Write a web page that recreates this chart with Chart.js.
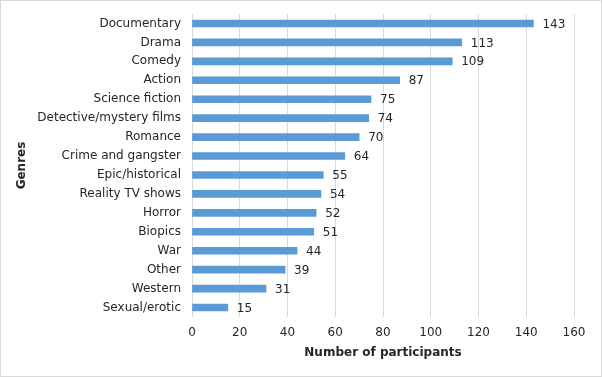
<!DOCTYPE html>
<html>
<head>
<meta charset="utf-8">
<script src="https://cdn.jsdelivr.net/npm/chart.js@4"></script>
<style>
  html, body { margin: 0; padding: 0; background: #fff; }
  #wrap { width: 602px; height: 377px; }
</style>
</head>
<body>
<div id="wrap"><canvas id="c" width="602" height="377"></canvas></div>
<script>
const categories = ["Documentary", "Drama", "Comedy", "Action", "Science fiction", "Detective/mystery films", "Romance", "Crime and gangster", "Epic/historical", "Reality TV shows", "Horror", "Biopics", "War", "Other", "Western", "Sexual/erotic"];
const values = [143, 113, 109, 87, 75, 74, 70, 64, 55, 54, 52, 51, 44, 39, 31, 15];
const xMin = 0, xMax = 160, xStep = 20;
const xTitle = "Number of participants";
const yTitle = "Genres";

const FONT = "'DejaVu Sans', Verdana, sans-serif";

const borderPlugin = {
  id: 'outerBorder',
  beforeDraw(chart) {
    const ctx = chart.ctx;
    ctx.save();
    ctx.fillStyle = '#fff';
    ctx.fillRect(0, 0, chart.width, chart.height);
    ctx.strokeStyle = '#d9d9d9';
    ctx.lineWidth = 1;
    ctx.strokeRect(0.5, 0.5, chart.width - 1, chart.height - 1);
    ctx.restore();
  }
};

const labelPlugin = {
  id: 'valueLabels',
  afterDatasetsDraw(chart) {
    const ctx = chart.ctx;
    const meta = chart.getDatasetMeta(0);
    ctx.save();
    ctx.font = '12px ' + FONT;
    ctx.fillStyle = '#262626';
    ctx.textAlign = 'left';
    ctx.textBaseline = 'middle';
    meta.data.forEach((bar, i) => {
      ctx.fillText(String(chart.data.datasets[0].data[i]), bar.x + 9, bar.y + 1);
    });
    ctx.restore();
  }
};

new Chart(document.getElementById('c'), {
  type: 'bar',
  data: {
    labels: categories,
    datasets: [{
      data: values,
      backgroundColor: '#5b9bd5',
      borderWidth: 0,
      barThickness: 7
    }]
  },
  options: {
    indexAxis: 'y',
    responsive: false,
    animation: false,
    devicePixelRatio: 1,
    layout: { padding: { left: 10, right: 28, top: 14, bottom: 0 } },
    plugins: { legend: { display: false }, tooltip: { enabled: false } },
    scales: {
      x: {
        min: xMin, max: xMax,
        ticks: { stepSize: xStep, color: '#262626', font: { family: FONT, size: 12 }, padding: 9 },
        grid: { color: '#d9d9d9', drawTicks: false },
        border: { display: false },
        title: { display: true, text: xTitle, color: '#262626', font: { family: FONT, size: 12, weight: 'bold' }, padding: { top: 4, bottom: 17 } },
        afterFit(scale) { scale.height = 60; scale.paddingLeft = 0; scale.paddingRight = 0; }
      },
      y: {
        ticks: { color: '#262626', font: { family: FONT, size: 12 }, padding: 11, autoSkip: false },
        grid: { display: false, drawTicks: false },
        border: { display: false },
        title: { display: true, text: yTitle, color: '#262626', font: { family: FONT, size: 12, weight: 'bold' }, padding: { top: 5, bottom: 5 } },
        afterFit(scale) { scale.width = 182; scale.paddingTop = 0; scale.paddingBottom = 0; }
      }
    }
  },
  plugins: [borderPlugin, labelPlugin]
});
</script>
</body>
</html>
